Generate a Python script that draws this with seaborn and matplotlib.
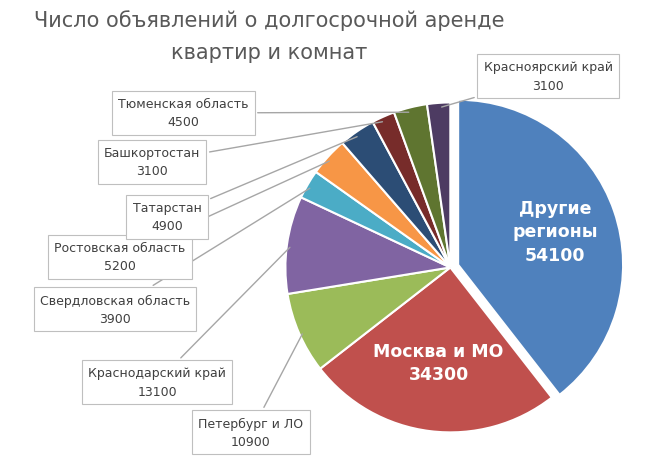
import numpy as np
import matplotlib.pyplot as plt
import seaborn as sns

regions = ["Другие\nрегионы", "Москва и МО", "Петербург и ЛО", "Краснодарский край",
           "Свердловская область", "Ростовская область", "Татарстан", "Башкортостан",
           "Тюменская область", "Красноярский край"]
values = [54100, 34300, 10900, 13100, 3900, 5200, 4900, 3100, 4500, 3100]
colors = ["#4F81BD", "#C0504D", "#9BBB59", "#8064A2", "#4BACC6", "#F79646",
          "#2C4D75", "#772C2A", "#5F7530", "#4D3B62"]
# label box centres in pixels (outside labels only)
box_px = [None, None, (251, 433), (157, 383), (115, 310), (120, 258),
          (167, 218), (152, 163), (183, 114), (548, 77)]

sns.set_style("white")
W, H = 656, 464
fig = plt.figure(figsize=(W / 100, H / 100), dpi=100)
fig.text(0.41, 0.955, "Число объявлений о долгосрочной аренде", ha="center", va="center",
         fontsize=15, color="#595959")
fig.text(0.41, 0.885, "квартир и комнат", ha="center", va="center",
         fontsize=15, color="#595959")

ax = fig.add_axes([0.435, 0.066, 0.503, 0.711])
explode = [0.05] + [0] * (len(values) - 1)
wedges, _ = ax.pie(values, colors=colors, startangle=90, counterclock=False,
                   explode=explode, wedgeprops=dict(edgecolor="white", linewidth=1.5))
ax.set_xlim(-1.0, 1.0)
ax.set_ylim(-1.0, 1.0)
ax.set_aspect("equal")
ax.axis("off")

# inside labels
for i in (0, 1):
    w = wedges[i]
    ang = np.deg2rad((w.theta1 + w.theta2) / 2)
    r = 0.62 if i == 0 else 0.58
    txt = f"{regions[i]}\n{values[i]}"
    ax.text(w.center[0] + r * np.cos(ang), w.center[1] + r * np.sin(ang), txt,
            ha="center", va="center", color="white", fontsize=12.5,
            fontweight="bold", linespacing=1.4)

for i in range(2, len(values)):
    w = wedges[i]
    ang = np.deg2rad((w.theta1 + w.theta2) / 2)
    x, y = 0.97 * np.cos(ang), 0.97 * np.sin(ang)
    bx, by = box_px[i]
    ax.annotate(f"{regions[i]}\n{values[i]}", xy=(x, y),
                xytext=(bx / W, 1 - by / H), textcoords="figure fraction",
                ha="center", va="center", fontsize=9, color="#404040",
                linespacing=1.5, annotation_clip=False,
                bbox=dict(boxstyle="square,pad=0.5", fc="white", ec="#BFBFBF", lw=0.8),
                arrowprops=dict(arrowstyle="-", color="#A6A6A6", lw=1))

fig.savefig("out.png", dpi=100)
